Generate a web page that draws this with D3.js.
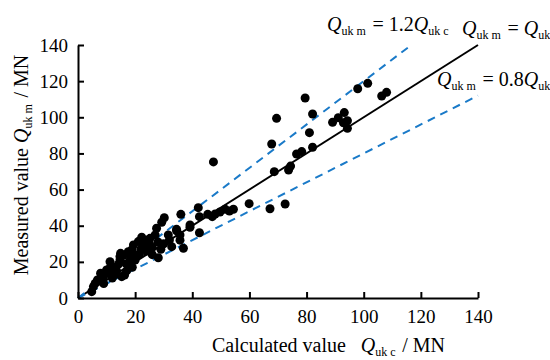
<!DOCTYPE html>
<html><head><meta charset="utf-8">
<script src="https://cdn.jsdelivr.net/npm/d3@7"></script>
<style>body{margin:0;background:#fff}svg{display:block;font-family:"Liberation Serif","Times New Roman",serif}svg text{font-family:"Liberation Serif","Times New Roman",serif}</style>
</head><body><svg id="c" width="550" height="360"></svg>
<script>
const xTicks = [0,20,40,60,80,100,120,140];
const yTicks = [0,20,40,60,80,100,120,140];
const calcX = [4.8,5.4,6,6.8,7.7,7.9,8.9,9,10,10.3,11.2,11.2,11.4,12,12.5,13,13.5,14.1,14.7,14.7,14.9,15.3,15.9,16.3,16.8,17,17.6,18,18.4,18.8,19,19.4,20,20,21.1,21.5,22,22.3,22.9,23.5,24,24.6,25,25.2,26,26,27,27.5,28,28.1,29,29.3,30,30.2,31.6,32,32.8,34.5,34.5,35.7,35.7,36,36.9,39.2,39.2,42.1,42.5,42.5,45.4,47,48,47.4,49.7,51.5,53,54.4,59.9,67.2,72.5,67.8,68.7,69.5,73.7,74.4,76.5,78.3,79.5,81,82.1,82.1,89.1,91.1,92.9,93.2,94.3,94.3,97.9,101.4,106.3,108];
const measY = [3.5,6.3,8.1,10,10,13.7,11.8,8,15.5,13.7,14.6,20.1,17.3,11,16,13,15,18.6,21,22.9,24.7,11.8,23.8,12.7,19,15,25.6,20,22,26.6,17,29.3,21,24,31.2,24,27,33.6,29.3,31.2,26,32.1,30,33,28,24,34.9,38.6,31,22.3,27,41.9,30,44.4,34.9,32.1,28.4,38,37.2,34.9,32,46.3,27.5,40.4,39.1,50,45,36.1,46.3,45,46.5,75.3,47.6,49.1,48.1,49.1,52.2,49.4,52,85.2,69.9,99.4,70.8,73,79.7,81,110.7,91.5,101.8,83.4,97.2,99.8,97,102.6,98.1,93.9,115.8,118.8,111.8,113.8];
const refLines = [{k:1, x1:140, dash:null, color:"#000"},{k:1.2, x1:140/1.2, dash:"8,6", color:"#1a7ac8"},{k:0.8, x1:140, dash:"8,6", color:"#1a7ac8"}];

const svg = d3.select("#c");
const m = {l:78, r:478, t:45, b:298};
const x = d3.scaleLinear().domain([0,140]).range([m.l,m.r]);
const y = d3.scaleLinear().domain([0,140]).range([m.b,m.t]);

refLines.forEach(r=>{
  svg.append("line").attr("x1",x(0)).attr("y1",y(0)).attr("x2",x(r.x1)).attr("y2",y(r.k*r.x1))
    .attr("stroke",r.color).attr("stroke-width",2).attr("stroke-dasharray",r.dash);
});

svg.append("g").selectAll("circle").data(calcX.map((v,i)=>[v,measY[i]])).join("circle")
  .attr("cx",d=>x(d[0])).attr("cy",d=>y(d[1])).attr("r",4.5).attr("fill","#000");

const xa = svg.append("g").attr("transform",`translate(0,${m.b})`)
  .call(d3.axisBottom(x).tickValues(xTicks).tickSizeInner(-6).tickSizeOuter(0).tickPadding(12));
const ya = svg.append("g").attr("transform",`translate(${m.l},0)`)
  .call(d3.axisLeft(y).tickValues(yTicks).tickSizeInner(-6).tickSizeOuter(0).tickPadding(10));
[xa,ya].forEach(a=>{
  a.attr("font-family","Liberation Serif").attr("font-size",19);
  a.select(".domain").attr("stroke","#000").attr("stroke-width",2);
  a.selectAll(".tick line").attr("stroke","#000").attr("stroke-width",2);
  a.selectAll(".tick text").attr("fill","#000");
});

function qlabel(g, parts, size){
  const t = g.append("text").style("font-size",size+"px").attr("fill","#000");
  parts.forEach(p=>{
    if(p.q){ t.append("tspan").attr("font-style","italic").text("Q");
      t.append("tspan").style("font-size",(size*0.6)+"px").attr("dy",size*0.22).text(p.q);
      t.append("tspan").attr("dy",-size*0.22).text("\u200A"); }
    else t.append("tspan").text(p.t);
  });
  return t;
}
qlabel(svg,[{q:"uk m"},{t:" = 1.2"},{q:"uk c"}],20).attr("x",327).attr("y",31);
qlabel(svg,[{q:"uk m"},{t:" = "},{q:"uk c"}],20).attr("x",462).attr("y",35);
qlabel(svg,[{q:"uk m"},{t:" = 0.8"},{q:"uk c"}],20).attr("x",437).attr("y",86);

qlabel(svg,[{t:"Calculated value\u2002 "},{q:"uk c"},{t:" / MN"}],20).attr("x",212).attr("y",352);
qlabel(svg,[{t:"Measured value "},{q:"uk m"},{t:" / MN"}],20)
  .attr("transform","translate(28,165) rotate(-90)").attr("text-anchor","middle");
</script></body></html>
